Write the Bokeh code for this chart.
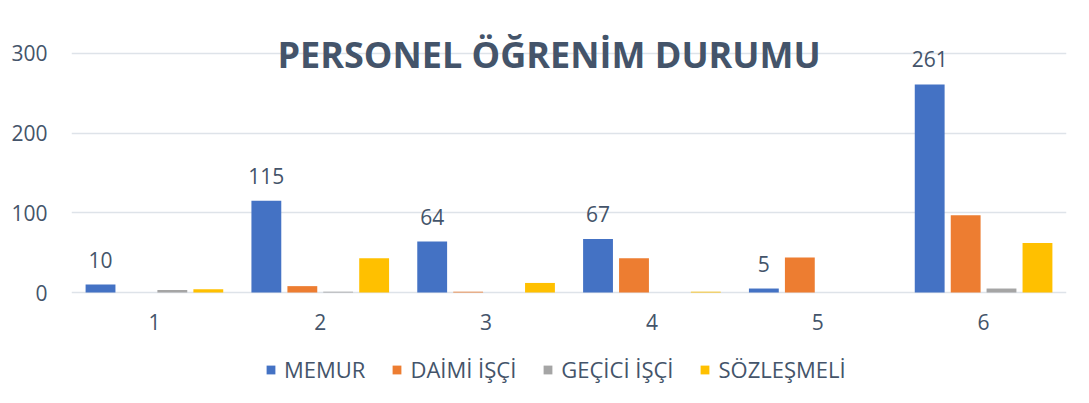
from bokeh.plotting import figure
from bokeh.models import FactorRange, Range1d, Label, Legend, LegendItem, ColumnDataSource, FixedTicker
from bokeh.transform import dodge
from bokeh.core.properties import value
from bokeh.embed import file_html
from bokeh.resources import INLINE

# ---- data ----
categories = ["1", "2", "3", "4", "5", "6"]
memur = [10, 115, 64, 67, 5, 261]
daimi_isci = [0, 8, 1, 43, 44, 97]
gecici_isci = [3, 1, 0, 0, 0, 5]
sozlesmeli = [4, 43, 12, 1, 0, 62]
series_names = ["MEMUR", "DAİMİ İŞÇİ", "GEÇİCİ İŞÇİ", "SÖZLEŞMELİ"]
title_text = "PERSONEL ÖĞRENİM DURUMU"
y_ticks = [0, 100, 200, 300]

# ---- styles ----
colors = ["#4472C4", "#ED7D31", "#A5A5A5", "#FFC000"]
offsets = [-0.325, -0.108, 0.108, 0.325]
bar_w = 0.18
text_color = "#44546A"
font = "Open Sans"

src = ColumnDataSource(dict(
    cat=categories,
    memur=memur,
    daimi=daimi_isci,
    gecici=gecici_isci,
    soz=sozlesmeli,
    memur_lbl=[str(v) for v in memur],
))
cols = ["memur", "daimi", "gecici", "soz"]

p = figure(
    frame_width=995, frame_height=371,
    x_range=FactorRange(*categories),
    y_range=Range1d(-135.5, 330),
    output_backend="svg", toolbar_location=None,
    min_border_left=71, min_border_right=23,
    min_border_top=29, min_border_bottom=0,
)
p.outline_line_color = None
p.background_fill_color = "white"
p.border_fill_color = "white"

items = []
for col, c, off, name in zip(cols, colors, offsets, series_names):
    r = p.vbar(x=dodge("cat", off, range=p.x_range), top=col, width=bar_w,
               source=src, fill_color=c, line_color=None)
    items.append(LegendItem(label=name, renderers=[r]))

# data labels for MEMUR
p.text(x=dodge("cat", offsets[0], range=p.x_range), y="memur", text="memur_lbl",
       source=src, text_align="center", text_baseline="bottom", y_offset=-17,
       text_font=value(font), text_font_size="21px", text_color=text_color)

# title
p.add_layout(Label(x=2.88, y=299, text=title_text, text_align="center",
                   text_baseline="middle", text_font=font, text_font_size="36px",
                   text_font_style="bold", text_color=text_color))

# axes
p.xaxis.fixed_location = 0
p.xaxis.axis_line_color = None
p.xaxis.major_tick_line_color = None
p.xaxis.minor_tick_line_color = None
p.xaxis.major_tick_out = 0
p.xaxis.major_tick_in = 0
p.xaxis.major_label_standoff = 21
p.xaxis.major_label_text_font = font
p.xaxis.major_label_text_font_size = "21px"
p.xaxis.major_label_text_color = text_color

p.yaxis.ticker = FixedTicker(ticks=y_ticks)
p.yaxis.axis_line_color = None
p.yaxis.major_tick_line_color = None
p.yaxis.minor_tick_line_color = None
p.yaxis.major_tick_out = 0
p.yaxis.major_tick_in = 0
p.yaxis.major_label_standoff = 24
p.yaxis.major_label_text_font = font
p.yaxis.major_label_text_font_size = "21px"
p.yaxis.major_label_text_color = text_color

p.xgrid.grid_line_color = None
p.ygrid.ticker = FixedTicker(ticks=y_ticks)
p.ygrid.grid_line_color = "#DEE3E9"
p.ygrid.grid_line_width = 1.5

legend = Legend(items=items, orientation="horizontal", location=(194, 16),
                label_text_font=font, label_text_font_size="22px",
                label_text_color=text_color, glyph_width=11, glyph_height=11,
                label_standoff=8, spacing=26, padding=5, margin=0,
                border_line_color=None, background_fill_alpha=0)
p.add_layout(legend)

open("out.html", "w").write(file_html(p, INLINE))
